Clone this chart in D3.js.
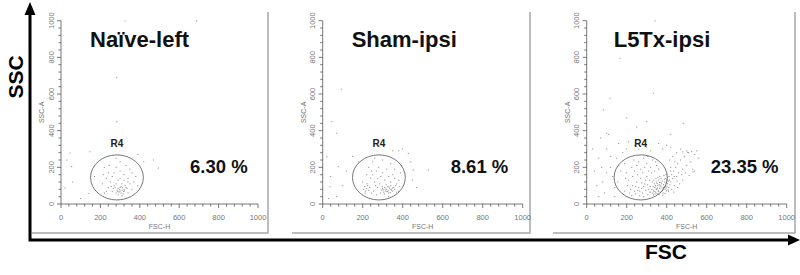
<!DOCTYPE html>
<html><head><meta charset="utf-8">
<script src="https://cdn.jsdelivr.net/npm/d3@7"></script>
<style>body{margin:0;background:#fff}svg{display:block}</style>
</head><body>
<svg id="c" width="800" height="275"></svg>
<script>
const panelTitles = ["Naïve-left", "Sham-ipsi", "L5Tx-ipsi"];
const gatePercents = ["6.30 %", "8.61 %", "23.35 %"];
const gateName = "R4";
const majorTicks = [0, 200, 400, 600, 800, 1000];
const minorTicks = d3.range(0, 1001, 40);
const xAxisLabel = "FSC-H", yAxisLabel = "SSC-A";
// gate ellipses [cx, cy, rx, ry] in data units
const gates = [[284, 145, 134, 123], [281, 145, 132, 123], [270, 145, 133, 123]];

const naivePoints = [
[283,691],[325,998],[689,998],[283,449],[46,278],[54,204],[147,285],[469,240],[494,196],[20,87],[142,58],[100,30],[30,240],[170,150],[420,230],[390,270],[60,120],
[220,200],[240,170],[260,150],[280,200],[300,180],[320,160],[340,140],[360,170],[250,120],[270,100],[290,130],[310,110],[330,90],[350,110],[370,120],[230,140],[210,110],[240,90],[260,70],[280,60],[300,70],[320,80],[340,60],[300,90],[310,75],[290,85],[305,95],[295,65],[315,55],[285,75],[325,100],[335,85],[275,90],[265,85],[255,95],[300,230],[280,250],[330,210],[380,150],[390,100],[215,160],[245,210],[350,190],[300,140],[270,170],[320,130],[360,80],[230,70],[220,60],[310,45],[290,50],[305,60],[318,68],[298,78],[288,68],[312,88],[322,72],[280,110],[340,120]
];
const shamPoints = [
[95,626],[45,449],[70,386],[78,204],[20,258],[428,276],[453,185],[528,185],[37,94],[70,40],[150,260],[120,180],[40,150],[180,230],[450,130],[470,90],[440,230],[30,30],[100,100],[400,300],[380,290],[350,290],
[205,80],[210,95],[215,70],[220,85],[225,100],[230,75],[235,90],[212,60],[222,110],[200,120],[240,140],[250,160],[260,120],[270,180],[280,200],[290,150],[300,170],[310,130],[320,190],[330,150],[340,120],[350,160],[360,140],[370,110],[380,130],[290,60],[295,75],[300,85],[305,65],[310,90],[315,70],[320,80],[325,95],[330,60],[335,85],[340,100],[345,75],[350,70],[355,90],[360,80],[365,100],[370,65],[298,95],[308,55],[318,105],[328,72],[338,62],[348,88],[302,78],[312,82],[322,68],[332,92],[342,78],[275,90],[265,100],[255,70],[245,60],[285,110],[250,230],[230,200],[260,250],[300,240],[340,220],[390,170],[395,210],[245,180],[275,140],[360,190],[380,70],[385,95],[270,50],[330,40],[220,160]
];
const l5txPoints = [
[330,60],[335,75],[340,90],[345,65],[350,80],[355,100],[360,70],[365,85],[370,95],[375,110],[380,75],[385,90],[390,120],[395,100],[400,130],[338,110],[342,55],[348,120],[352,58],[358,130],[362,105],[368,62],[372,140],[378,125],[382,60],[388,135],[392,80],[398,115],[402,95],[405,145],[332,95],[336,130],[344,100],[354,88],[364,118],[374,68],[384,105],[394,140],[326,80],[328,120],[346,140],[356,145],[366,150],[376,88],[386,155],[396,160],[404,110],[408,125],[410,90],[412,150],[320,65],[318,95],[334,50],[362,52],[380,48],[392,58],[399,72],[406,78],[371,118],[357,72],[347,83],[337,68],[352,112],[367,102],[383,82],[391,96],[397,88],[409,70],[414,130],[416,105],
[220,80],[230,100],[240,70],[250,120],[260,90],[270,140],[280,60],[290,110],[300,150],[310,80],[240,180],[250,210],[260,230],[270,190],[280,170],[290,200],[300,220],[310,180],[320,200],[230,150],[210,130],[200,170],[215,60],[225,45],[245,55],[265,45],[285,40],[305,50],[255,160],[275,115],[295,75],[315,130],[225,200],[235,240],[285,250],[305,260],[325,170],[265,70],[275,85],[285,95],[295,130],[305,105],[315,65],[245,95],[255,75],[205,100],[195,140],[190,220],[340,180],[350,210],[360,190],[330,240],[345,230],
[420,120],[425,160],[430,140],[435,180],[440,100],[445,200],[450,150],[455,220],[460,170],[470,240],[480,190],[490,260],[500,210],[510,280],[520,230],[540,270],[550,290],[560,250],[530,190],[480,130],[465,110],[420,200],[415,240],[430,260],[440,230],[450,280],[470,300],[500,290],[455,90],[425,80],[435,65],[418,180],[438,150],[452,125],[475,160],[495,170],[512,155],[540,180],[532,175],[481,284],[505,282],[525,286],[380,300],[400,320],[360,330],[420,310],
[40,180],[60,250],[80,120],[100,300],[120,200],[140,90],[150,250],[160,330],[170,180],[90,60],[50,100],[130,150],[110,380],[75,200],[180,280],[140,40],[60,40],[30,300],[100,170],[155,120],[190,70],[120,260],[200,300],[210,340],[240,320],[260,300],[280,330],[300,310],[320,290],[160,210],
[117,577],[342,998],[167,795],[83,513],[333,604],[483,440],[100,386],[70,360],[250,420],[420,380],[300,450],[200,470]
];
const allPoints = [naivePoints, shamPoints, l5txPoints];

// layout
const layout = [
  {x0: 61, w: 197, left: 32, right: 268, titleDx: 29, pctDx: 129},
  {x0: 322.7, w: 200, left: 292, right: 530, titleDx: 29, pctDx: 128},
  {x0: 586.7, w: 200, left: 553, right: 795, titleDx: 27, pctDx: 124}
];
const yTop = 20.7, yBot = 204;
const FONT = "'Liberation Sans', Arial, Helvetica, sans-serif";
const svg = d3.select("#c").style("font-family", FONT);

layout.forEach((L, i) => {
  const g = svg.append("g");
  const x = d3.scaleLinear().domain([0, 1000]).range([L.x0, L.x0 + L.w]);
  const y = d3.scaleLinear().domain([0, 1000]).range([yBot, yTop]);

  // panel frame (right + bottom edges)
  g.append("path").attr("d", `M${L.right},12 V233 H${L.left}`)
    .attr("fill", "none").attr("stroke", "#a8a8a8").attr("stroke-width", 1.5);

  // axes
  const ax = g.append("g").attr("stroke", "#555").attr("stroke-width", 0.8);
  ax.append("line").attr("x1", x(0)).attr("x2", x(1000)).attr("y1", yBot).attr("y2", yBot);
  ax.append("line").attr("x1", L.x0).attr("x2", L.x0).attr("y1", y(0)).attr("y2", y(1000));
  ax.selectAll(".mx").data(minorTicks).join("line")
    .attr("x1", d => x(d)).attr("x2", d => x(d)).attr("y1", yBot).attr("y2", d => yBot + (d % 200 === 0 ? 4 : 2.5));
  ax.selectAll(".my").data(minorTicks).join("line")
    .attr("y1", d => y(d)).attr("y2", d => y(d)).attr("x1", L.x0).attr("x2", d => L.x0 - (d % 200 === 0 ? 4 : 2.5));

  g.selectAll(".xl").data(majorTicks).join("text")
    .attr("x", d => x(d)).attr("y", 219.5).attr("text-anchor", "middle")
    .attr("font-size", 7.5).attr("fill", "#777").text(d => d);
  g.selectAll(".yl").data(majorTicks).join("text")
    .attr("transform", d => `translate(${L.x0 - 7.5},${y(d)}) rotate(-90)`)
    .attr("text-anchor", "middle").attr("font-size", 7.5).attr("fill", "#777").text(d => d);
  g.append("text").attr("x", x(500)).attr("y", 229).attr("text-anchor", "middle")
    .attr("font-size", 7).attr("fill", "#777").text(xAxisLabel);
  g.append("text").attr("transform", `translate(${L.x0 - 17},${y(500)}) rotate(-90)`)
    .attr("text-anchor", "middle").attr("font-size", 7).attr("fill", "#777").text(yAxisLabel);

  // dots
  g.selectAll(".pt").data(allPoints[i]).join("rect")
    .attr("x", d => x(d[0]) - 0.5).attr("y", d => y(d[1]) - 0.5)
    .attr("width", 1).attr("height", 1).attr("fill", "#333").attr("opacity", 0.6);

  // gate
  const [cx, cy, rx, ry] = gates[i];
  g.append("ellipse").attr("cx", x(cx)).attr("cy", y(cy))
    .attr("rx", x(cx + rx) - x(cx)).attr("ry", y(cy) - y(cy + ry))
    .attr("fill", "none").attr("stroke", "#555").attr("stroke-width", 0.8);
  g.append("text").attr("x", x(cx)).attr("y", y(cy + ry) - 7.5).attr("text-anchor", "middle")
    .attr("font-size", 10).attr("font-weight", "bold").attr("fill", "#222").text(gateName);

  // title and percentage
  g.append("text").attr("x", L.x0 + L.titleDx).attr("y", 47)
    .attr("font-size", 22).attr("font-weight", "bold").attr("fill", "#111").text(panelTitles[i]);
  g.append("text").attr("x", L.x0 + L.pctDx).attr("y", 173)
    .attr("font-size", 18.5).attr("font-weight", "bold").attr("fill", "#111").text(gatePercents[i]);
});

// big axis arrows
svg.append("path").attr("d", "M30,241.5 V13 M30,240 H790").attr("stroke", "#000")
  .attr("stroke-width", 3).attr("fill", "none");
svg.append("path").attr("d", "M24.5,15 L35.5,15 L30,2 Z").attr("fill", "#000");
svg.append("path").attr("d", "M788,234.5 L788,245.5 L800,240 Z").attr("fill", "#000");

svg.append("text").attr("transform", "translate(23,77) rotate(-90)").attr("text-anchor", "middle")
  .attr("font-size", 21).attr("font-weight", "bold").attr("fill", "#000").text("SSC");
svg.append("text").attr("x", 666).attr("y", 259).attr("text-anchor", "middle")
  .attr("font-size", 21).attr("font-weight", "bold").attr("fill", "#000").text("FSC");
</script>
</body></html>
